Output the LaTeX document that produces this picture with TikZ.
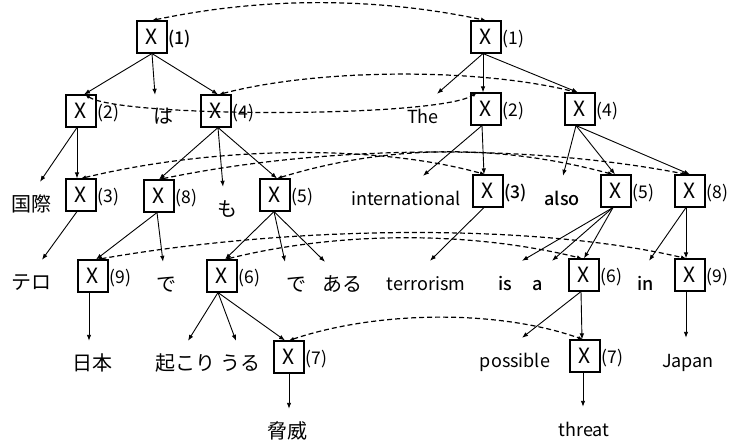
\documentclass[tikz,border=0pt]{standalone}
\usepackage{fontspec}
\setmainfont{Noto Sans CJK JP}
\newfontfamily\medf{Noto Sans CJK JP Medium}
\usetikzlibrary{arrows.meta}
\begin{document}
\begin{tikzpicture}[x=1pt,y=-1pt,
  xbox/.style={draw, line width=1.1pt, minimum width=30pt, minimum height=32pt, inner sep=0pt, font=\fontsize{21}{21}\selectfont},
  lbl/.style={font=\fontsize{17.5}{17.5}\selectfont, inner sep=1pt, yshift=-2pt},
  blbl/.style={lbl, font=\fontsize{17.5}{17.5}\medf},
  word/.style={anchor=base, font=\fontsize{18}{18}\selectfont, text height=14pt, inner xsep=0pt, inner ysep=15pt},
  jw/.style={word, font=\fontsize{20}{20}\selectfont},
  bw/.style={word, font=\fontsize{18}{18}\medf},
  arr/.style={-{Latex[length=6pt,width=4.5pt]}, line width=0.9pt},
  link/.style={{Latex[length=5pt,width=4pt]}-{Latex[length=5pt,width=4pt]}, dash pattern=on 5pt off 3pt, line width=1.2pt}
]
\useasboundingbox (0,0) rectangle (738,441);
% ---------- left tree ----------
\node[xbox, label={[blbl]right:(1)}] (L1) at (152,37) {X};
\node[xbox, label={[lbl]right:(2)}] (L2) at (81,111) {X};
\node[xbox, label={[lbl]right:(4)}] (L4) at (216,111) {X};
\node[jw] (ha) at (163,124) {は};
\node[xbox, label={[lbl]right:(3)}] (L3) at (81,195) {X};
\node[xbox, label={[lbl]right:(8)}] (L8) at (159,196) {X};
\node[xbox, label={[lbl]right:(5)}] (L5) at (275,195) {X};
\node[jw] (kokusai) at (32,211) {国際};
\node[jw] (mo) at (227,216) {も};
\node[jw] (tero) at (32,289) {テロ};
\node[xbox, label={[lbl]right:(9)}] (L9) at (93,276) {X};
\node[jw] (de1) at (166,291) {で};
\node[xbox, label={[lbl]right:(6)}] (L6) at (222,276) {X};
\node[jw] (de2) at (296,291) {で};
\node[jw] (aru) at (342,291) {ある};
\node[jw] (nihon) at (92,370) {日本};
\node[jw] (okori) at (185,370) {起こり};
\node[jw] (uru) at (240,370) {うる};
\node[xbox, label={[lbl]right:(7)}] (L7) at (289,357) {X};
\node[jw] (kyoui) at (287,438) {脅威};
% ---------- right tree ----------
\node[xbox, label={[lbl]right:(1)}] (R1) at (486,37) {X};
\node[word] (the) at (423,123) {The};
\node[xbox, label={[lbl]right:(2)}] (R2) at (486,109) {X};
\node[xbox, label={[lbl]right:(4)}] (R4) at (580,109) {X};
\node[word] (intl) at (406,205) {international};
\node[xbox, label={[blbl]right:(3)}] (R3) at (488,191) {X};
\node[bw] (also) at (562,205) {also};
\node[xbox, label={[lbl]right:(5)}] (R5) at (616,191) {X};
\node[xbox, label={[lbl]right:(8)}] (R8) at (690,191) {X};
\node[word] (terr) at (426,290) {terrorism};
\node[bw] (is) at (505,290) {is};
\node[bw] (a) at (538,290) {a};
\node[xbox, label={[lbl]right:(6)}] (R6) at (584,275) {X};
\node[bw] (in) at (646,290) {in};
\node[xbox, label={[lbl]right:(9)}] (R9) at (690,275) {X};
\node[word] (poss) at (515,367) {possible};
\node[xbox, label={[lbl]right:(7)}] (R7) at (585,356) {X};
\node[word] (japan) at (688,367) {Japan};
\node[word] (threat) at (584,436) {threat};
% ---------- left arrows ----------
\draw[arr] (L1.south) -- ([xshift=3pt]L2.north);
\draw[arr] (L1.south) -- ([xshift=-8pt]ha.north);
\draw[arr] (L1.south) -- ([xshift=2pt]L4.north);
\draw[arr] ([xshift=-4pt]L2.south) -- ([xshift=8pt]kokusai.north);
\draw[arr] ([xshift=-4pt]L2.south) -- ([xshift=-4pt]L3.north);
\draw[arr] ([xshift=2pt]L4.south) -- (L8.north);
\draw[arr] ([xshift=2pt]L4.south) -- ([xshift=-4pt]mo.north);
\draw[arr] ([xshift=2pt]L4.south) -- ([xshift=2pt]L5.north);
\draw[arr] ([xshift=-4pt]L3.south) -- ([xshift=10pt]tero.north);
\draw[arr] ([xshift=-2pt]L8.south) -- ([xshift=3pt]L9.north);
\draw[arr] ([xshift=-2pt]L8.south) -- ([xshift=-3pt]de1.north);
\draw[arr] ([xshift=-1pt]L5.south) -- ([xshift=3pt]L6.north);
\draw[arr] ([xshift=-1pt]L5.south) -- ([xshift=-11pt]de2.north);
\draw[arr] ([xshift=-1pt]L5.south) -- ([xshift=-17pt]aru.north);
\draw[arr] ([xshift=-4pt]L9.south) -- ([xshift=-3pt]nihon.north);
\draw[arr] ([xshift=-4pt]L6.south) -- ([xshift=3pt]okori.north);
\draw[arr] ([xshift=-4pt]L6.south) -- ([xshift=-4pt]uru.north);
\draw[arr] ([xshift=-4pt]L6.south) -- ([xshift=-4pt]L7.north);
\draw[arr] (L7.south) -- ([xshift=2pt]kyoui.north);
% ---------- right arrows ----------
\draw[arr] ([xshift=-3pt]R1.south) -- ([xshift=14pt]the.north);
\draw[arr] ([xshift=-3pt]R1.south) -- ([xshift=-3pt]R2.north);
\draw[arr] ([xshift=-3pt]R1.south) -- ([xshift=-2pt]R4.north);
\draw[arr] ([xshift=-4pt]R2.south) -- ([xshift=17pt]intl.north);
\draw[arr] ([xshift=-4pt]R2.south) -- ([xshift=-4pt]R3.north);
\draw[arr] ([xshift=-4pt]R4.south) -- ([xshift=1pt]also.north);
\draw[arr] ([xshift=-4pt]R4.south) -- ([xshift=-1pt]R5.north);
\draw[arr] ([xshift=-4pt]R4.south) -- (R8.north);
\draw[arr] ([xshift=-4pt]R3.south) -- ([xshift=4pt]terr.north);
\draw[arr] ([xshift=-3pt]R5.south) -- ([xshift=17pt]is.north);
\draw[arr] ([xshift=-3pt]R5.south) -- ([xshift=14pt]a.north);
\draw[arr] ([xshift=-3pt]R5.south) -- (R6.north);
\draw[arr] ([xshift=-4pt]R8.south) -- ([xshift=3pt]in.north);
\draw[arr] ([xshift=-4pt]R8.south) -- ([xshift=-4pt]R9.north);
\draw[arr] ([xshift=-3pt]R6.south) -- ([xshift=7pt]poss.north);
\draw[arr] ([xshift=-3pt]R6.south) -- ([xshift=-3pt]R7.north);
\draw[arr] ([xshift=-4pt]R9.south) -- ([xshift=-2pt]japan.north);
\draw[arr] ([xshift=-2pt]R7.south) -- ([xshift=-1pt]threat.north);
% ---------- alignment links ----------
\draw[link] (L1.north) .. controls (263,-3) and (375,-3) .. (R1.north);
\draw[link] ([xshift=4pt]L2.north) .. controls (120,118) and (440,118) .. ([xshift=-9pt]R2.north);
\draw[link] ([xshift=3pt]L4.north) .. controls (320,68) and (480,68) .. ([xshift=-3pt]R4.north);
\draw[link] (L3.north) .. controls (220,145) and (380,145) .. ([xshift=-3pt]R3.north);
\draw[link] (L8.north) .. controls (330,144) and (530,144) .. ([xshift=-3pt]R8.north);
\draw[link] ([xshift=2pt]L5.north) .. controls (390,144) and (500,144) .. ([xshift=-3pt]R5.north);
\draw[link] ([xshift=4pt]L9.north) .. controls (300,224) and (540,224) .. ([xshift=-4pt]R9.north);
\draw[link] ([xshift=3pt]L6.north) .. controls (340,231) and (470,231) .. ([xshift=-2pt]R6.north);
\draw[link] (L7.north) .. controls (380,310) and (500,310) .. ([xshift=-2pt]R7.north);
\end{tikzpicture}
\end{document}
